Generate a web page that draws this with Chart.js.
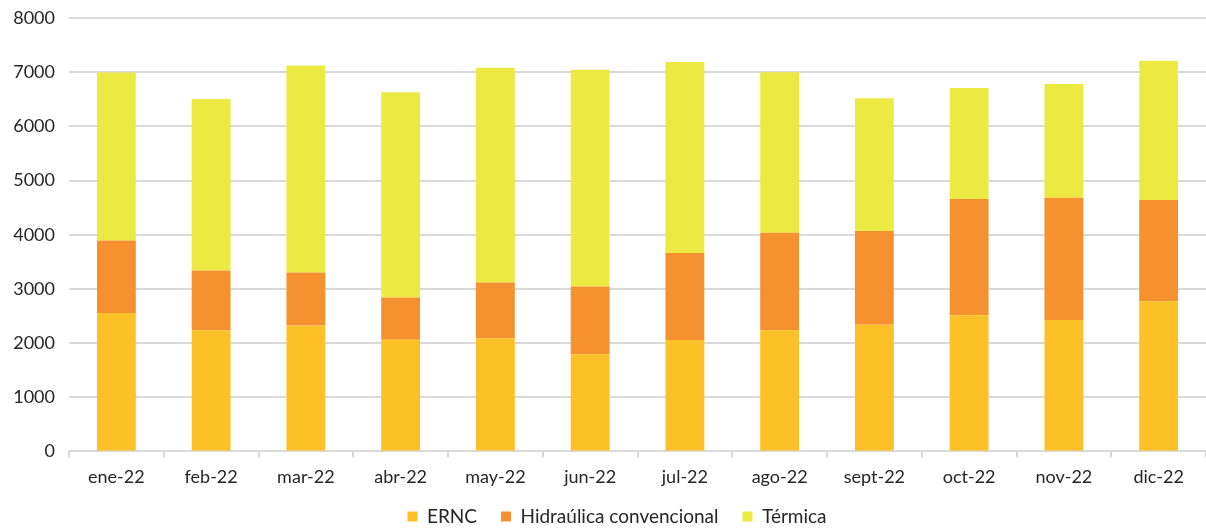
<!DOCTYPE html>
<html lang="es">
<head>
    <meta charset="UTF-8">
    <title>Generación 2022</title>
    <style>
        html, body { margin: 0; padding: 0; background: #fff; }
        #wrap { width: 1206px; height: 528px; position: relative; }
    </style>
</head>
<body>
    <div id="wrap"><canvas id="chart"></canvas></div>

    <script src="https://cdn.jsdelivr.net/npm/chart.js"></script>
    <script>
        const months = ["ene-22", "feb-22", "mar-22", "abr-22", "may-22", "jun-22",
                        "jul-22", "ago-22", "sept-22", "oct-22", "nov-22", "dic-22"];
        const ernc = [2556, 2235, 2322, 2063, 2087, 1791, 2055, 2235, 2340, 2512, 2425, 2770];
        const hidraulica = [1339, 1103, 979, 776, 1029, 1251, 1605, 1802, 1727, 2146, 2258, 1869];
        const termica = [3098, 3168, 3821, 3791, 3964, 4001, 3530, 2963, 2451, 2052, 2101, 2570];
        const yMax = 8000;
        const yStep = 1000;

        Chart.defaults.font.family = "Lato, 'Open Sans', sans-serif";
        Chart.defaults.color = "#262626";

        // the legend in the original sits a little right of centre and close under the labels
        const legendShift = {
            id: 'legendShift',
            afterLayout(chart) {
                chart.legend.left += 14;
                chart.legend.right += 14;
                chart.legend.top -= 4;
                chart.legend.bottom -= 4;
            }
        };

        const ctx = document.getElementById('chart').getContext('2d');
        new Chart(ctx, {
            type: 'bar',
            data: {
                labels: months,
                datasets: [
                    { label: "ERNC", data: ernc, backgroundColor: "#FDC127" },
                    { label: "Hidraúlica convencional", data: hidraulica, backgroundColor: "#F5922F" },
                    { label: "Térmica", data: termica, backgroundColor: "#EDE943" }
                ]
            },
            plugins: [legendShift],
            options: {
                responsive: true,
                maintainAspectRatio: false,
                animation: false,
                categoryPercentage: 0.41,
                barPercentage: 1,
                layout: { padding: { left: 0, right: 0, top: 0, bottom: -12 } },
                plugins: {
                    tooltip: { enabled: false },
                    legend: {
                        position: 'bottom',
                        labels: {
                            boxWidth: 10,
                            boxHeight: 10,
                            padding: 24,
                            font: { size: 19 },
                            color: "#262626"
                        }
                    }
                },
                scales: {
                    x: {
                        stacked: true,
                        afterFit: (scale) => { scale.height -= 10; },
                        grid: {
                            drawOnChartArea: false,
                            drawTicks: true,
                            tickLength: 6,
                            color: "#d9d9d9",
                            lineWidth: 2
                        },
                        border: { color: "#d9d9d9", width: 2 },
                        ticks: { font: { size: 18 }, padding: 9, maxRotation: 0 }
                    },
                    y: {
                        stacked: true,
                        min: 0,
                        max: yMax,
                        afterFit: (scale) => { scale.width = 69; scale.paddingTop = 18; },
                        grid: { color: "#d9d9d9", lineWidth: 2, drawTicks: false },
                        border: { display: false },
                        ticks: {
                            stepSize: yStep,
                            font: { size: 18 },
                            padding: 14,
                            callback: (v) => String(v)
                        }
                    }
                }
            }
        });
    </script>
</body>
</html>
